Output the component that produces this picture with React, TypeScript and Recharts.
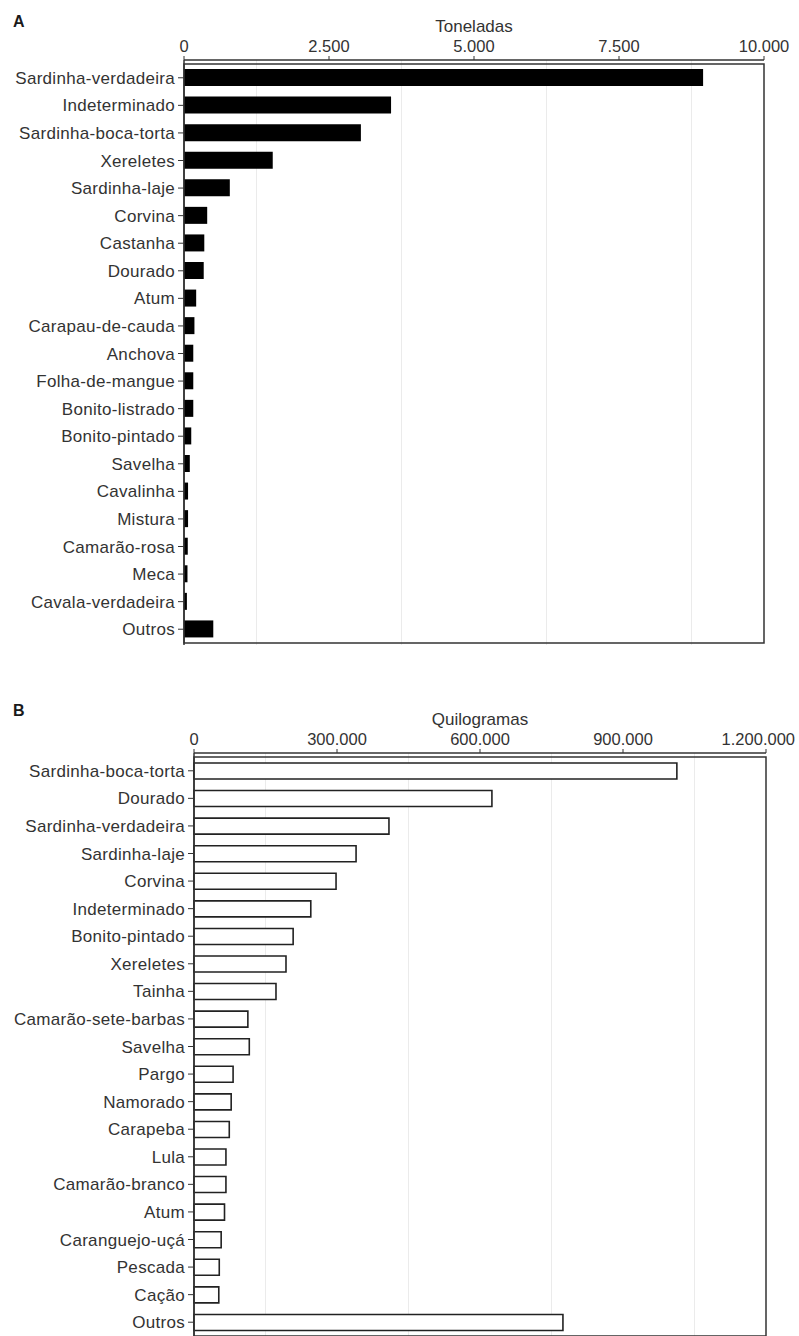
import React from 'react';
import { BarChart, Bar, XAxis, YAxis, CartesianGrid, ReferenceArea } from 'recharts';

// Painel A - toneladas por espécie
const especiesA = [
  'Sardinha-verdadeira', 'Indeterminado', 'Sardinha-boca-torta', 'Xereletes', 'Sardinha-laje',
  'Corvina', 'Castanha', 'Dourado', 'Atum', 'Carapau-de-cauda', 'Anchova', 'Folha-de-mangue',
  'Bonito-listrado', 'Bonito-pintado', 'Savelha', 'Cavalinha', 'Mistura', 'Camarão-rosa',
  'Meca', 'Cavala-verdadeira', 'Outros',
];
const toneladas = [
  8950, 3570, 3050, 1530, 790, 400, 350, 340, 210, 180, 160, 160,
  160, 125, 100, 70, 70, 65, 60, 50, 505,
];
const ticksA = [0, 2500, 5000, 7500, 10000];
const gridA = [1250, 3750, 6250, 8750];

// Painel B - quilogramas por espécie
const especiesB = [
  'Sardinha-boca-torta', 'Dourado', 'Sardinha-verdadeira', 'Sardinha-laje', 'Corvina',
  'Indeterminado', 'Bonito-pintado', 'Xereletes', 'Tainha', 'Camarão-sete-barbas', 'Savelha',
  'Pargo', 'Namorado', 'Carapeba', 'Lula', 'Camarão-branco', 'Atum', 'Caranguejo-uçá',
  'Pescada', 'Cação', 'Outros',
];
const quilogramas = [
  1013000, 625000, 409000, 340000, 298000, 245000, 208000, 193000, 172000, 113000, 116000,
  82000, 78000, 74000, 67000, 67000, 64000, 57000, 53000, 52000, 774000,
];
const ticksB = [0, 300000, 600000, 900000, 1200000];
const gridB = [150000, 450000, 750000, 1050000];

const fmt = (v: number) => String(v).replace(/\B(?=(\d{3})+(?!\d))/g, '.');

const FONT = '"Liberation Sans", Arial, sans-serif';
const AXIS = '#333333';
const TEXT = '#333333';

// tick superior; o último rótulo é puxado para dentro da página se não couber
const TopTick = (props: any) => {
  const { x, y, payload } = props;
  const label = fmt(payload.value);
  const half = label.length * 4.3;
  const dx = x + half > 797 ? 797 - half - x : 0;
  return (
    <text x={x} y={y} dx={dx} textAnchor="middle" fontSize={16.5} fill={TEXT} fontFamily={FONT}>
      {label}
    </text>
  );
};

interface PanelProps {
  letter: string;
  title: string;
  cats: string[];
  vals: number[];
  ticks: number[];
  grid: number[];
  yWidth: number;
  right: number;
  top: number;
  height: number;
  filled: boolean;
}

const Panel: React.FC<PanelProps> = ({ letter, title, cats, vals, ticks, grid, yWidth, right, top, height, filled }) => {
  const data = cats.map((name, i) => ({ name, value: vals[i] }));
  const max = ticks[ticks.length - 1];
  return (
    <div style={{ position: 'relative', width: 799, height }}>
      <div style={{ position: 'absolute', left: 13, top: 13, fontFamily: FONT, fontWeight: 'bold', fontSize: 16, color: '#1a1a1a' }}>
        {letter}
      </div>
      <BarChart
        width={799}
        height={height}
        data={data}
        layout="vertical"
        margin={{ top, right, bottom: 44, left: 0 }}
        style={{ fontFamily: FONT }}
      >
        <CartesianGrid horizontal={false} verticalValues={grid} stroke="#ebebeb" strokeWidth={1} />
        <XAxis
          type="number"
          orientation="top"
          domain={[0, max]}
          ticks={ticks}
          interval={0}
          height={30}
          tickSize={4}
          tickMargin={4}
          tick={<TopTick />}
          tickLine={{ stroke: AXIS }}
          axisLine={{ stroke: AXIS, strokeWidth: 1.5 }}
          label={{ value: title, position: 'top', offset: -2, fontSize: 17, fill: TEXT }}
        />
        <YAxis
          type="category"
          dataKey="name"
          width={yWidth}
          interval={0}
          padding={{ top: 4, bottom: 2 }}
          tickSize={6}
          tickMargin={3}
          tick={{ fontSize: 17, fill: TEXT, letterSpacing: 0.3 }}
          tickLine={{ stroke: AXIS }}
          axisLine={{ stroke: AXIS, strokeWidth: 1.5 }}
        />
        <Bar
          dataKey="value"
          barSize={filled ? 17 : 16}
          fill={filled ? '#000000' : '#ffffff'}
          stroke={filled ? 'none' : '#222222'}
          strokeWidth={filled ? 0 : 1.6}
          isAnimationActive={false}
        />
        <ReferenceArea x1={0} x2={max} fill="none" stroke={AXIS} strokeWidth={1.5} />
      </BarChart>
    </div>
  );
};

export default function App() {
  return (
    <div style={{ position: 'absolute', left: 0, top: 0, width: 799, height: 1336, overflow: 'hidden', background: '#fff' }}>
      <Panel letter="A" title="Toneladas" cats={especiesA} vals={toneladas} ticks={ticksA} grid={gridA}
        yWidth={184} right={35} top={30} height={689} filled />
      <Panel letter="B" title="Quilogramas" cats={especiesB} vals={quilogramas} ticks={ticksB} grid={gridB}
        yWidth={194} right={33} top={34} height={693} filled={false} />
    </div>
  );
}
